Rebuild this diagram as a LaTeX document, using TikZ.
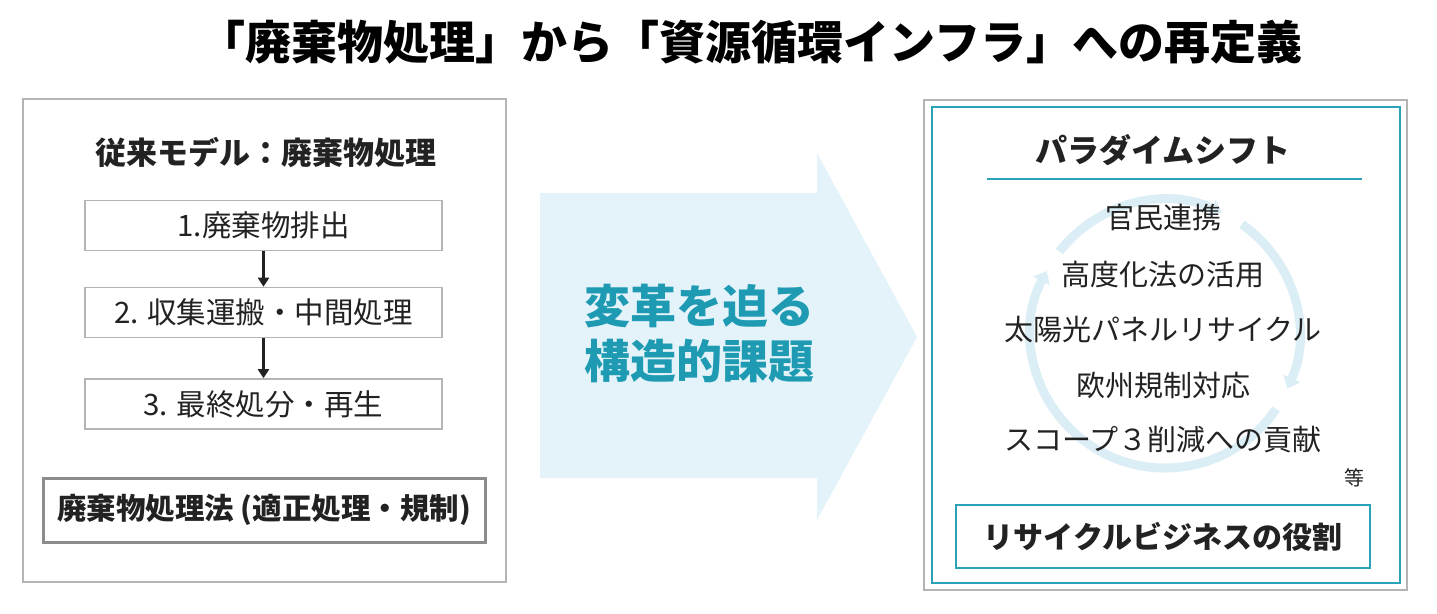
\documentclass[tikz,border=0pt]{standalone}
\usepackage{fontspec}
\setmainfont{Noto Sans CJK JP}
\usetikzlibrary{arrows.meta}
\definecolor{teal1}{HTML}{2AA3B8}
\definecolor{tealtxt}{HTML}{1E9AB3}
\definecolor{arrowfill}{HTML}{E3F3F9}
\definecolor{ringc}{HTML}{DCEEF5}
\definecolor{grayb}{HTML}{B4B4B4}
\definecolor{darkb}{HTML}{8C8C8C}
\definecolor{txt}{HTML}{222222}
\tikzset{
  panel/.style={draw=grayb, line width=2pt},
  stepbox/.style={draw=grayb, line width=1.6pt, minimum width=357pt, minimum height=50pt, font=\fontsize{29.5}{33}\selectfont, text=txt, inner sep=0pt},
  lawbox/.style={draw=darkb, line width=3pt, minimum width=442pt, minimum height=64pt, font=\fontsize{29.5}{33}\selectfont\bfseries, text=txt, inner sep=0pt},
  heading/.style={font=\fontsize{31}{35}\selectfont\bfseries, text=txt, inner sep=0pt},
  item/.style={font=\fontsize{29}{33}\selectfont, text=txt, inner sep=0pt},
  flow/.style={line width=2.4pt, txt, -{Triangle[length=9pt,width=11pt]}},
  ring/.style={ringc, line width=9pt, -{Triangle[length=11pt,width=18pt]}},
}
\begin{document}
\begin{tikzpicture}[x=1pt,y=-1pt]
\useasboundingbox (0,0) rectangle (1437,613);
\fill[white] (0,0) rectangle (1437,613);
% title
\node[font=\fontsize{46}{50}\selectfont\bfseries, text=black, inner sep=0pt] (title) at (751,42) {「廃棄物処理」から「資源循環インフラ」への再定義};
% left panel
\draw[panel] (23,99) rectangle (506,582);
\node[heading] (lhead) at (266,152) {従来モデル：廃棄物処理};
\node[stepbox] (s1) at (263.5,225.5) {1.廃棄物排出};
\node[stepbox] (s2) at (263.5,312.5) {2. 収集運搬・中間処理};
\node[stepbox] (s3) at (263.5,404) {3. 最終処分・再生};
\draw[flow] (s1.south) -- (s2.north);
\draw[flow] (s2.south) -- (s3.north);
\node[lawbox] (law) at (264,510) {廃棄物処理法 (適正処理・規制)};
% middle arrow
\fill[arrowfill] (540,193) -- (817,193) -- (817,153) -- (917,337) -- (817,520) -- (817,478) -- (540,478) -- cycle;
\node[font=\fontsize{46}{55}\selectfont\bfseries, text=tealtxt, align=center, inner sep=0pt] (mid) at (699,334) {変革を迫る\\構造的課題};
% right panel
\draw[panel] (924,100) rectangle (1407,590);
\draw[teal1, line width=2.6pt] (932,107) rectangle (1400,583);
% ring (clockwise on the page)
\coordinate (rc) at (1165,334);
\draw[ring] ([shift={(-55:134)}]rc) arc[start angle=-55, end angle=24, radius=134];
\draw[ring] ([shift={(34:134)}]rc) arc[start angle=34, end angle=208, radius=134];
\draw[ring] ([shift={(218:134)}]rc) arc[start angle=218, end angle=295, radius=134];
\node[heading, font=\fontsize{32}{36}\selectfont\bfseries] (rhead) at (1163,150) {パラダイムシフト};
\coordinate (ulL) at (987,179);
\coordinate (ulR) at (1362,179);
\draw[teal1, line width=2.6pt] (ulL) -- (ulR);
\node[item] (i1) at (1163,218) {官民連携};
\node[item] (i2) at (1163,275) {高度化法の活用};
\node[item] (i3) at (1163,330) {太陽光パネルリサイクル};
\node[item] (i4) at (1163,385) {欧州規制対応};
\node[item] (i5) at (1163,440) {スコープ３削減への貢献};
\node[font=\fontsize{20}{24}\selectfont, text=txt, inner sep=0pt] (etc) at (1354,478) {等};
\node[draw=teal1, line width=2.6pt, minimum width=414pt, minimum height=63pt, font=\fontsize{30}{34}\selectfont\bfseries, text=txt, inner sep=0pt] (role) at (1163,536.5) {リサイクルビジネスの役割};
\end{tikzpicture}
\end{document}
